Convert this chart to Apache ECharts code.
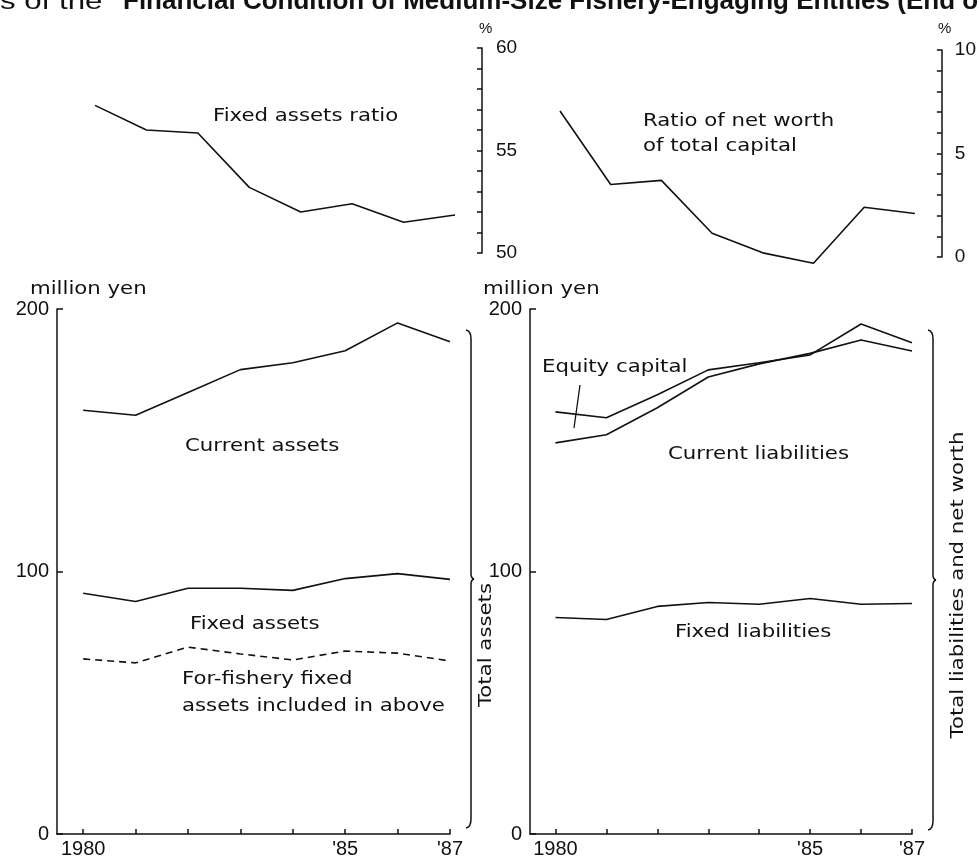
<!DOCTYPE html>
<html>
<head>
<meta charset="utf-8">
<script src="https://cdn.jsdelivr.net/npm/echarts@6/dist/echarts.min.js"></script>
<style>
  html, body { margin: 0; padding: 0; background: #fff; }
  #chart { width: 979px; height: 862px; }
</style>
</head>
<body>
<div id="chart"></div>
<script>
// Years on the horizontal axes
const years = [1980, 1981, 1982, 1983, 1984, 1985, 1986, 1987];
const labeledYears = [1980, 1985, 1987];
const yearText = { 1980: '1980', 1985: "'85", 1987: "'87" };

// Ratios (%)
const fixedAssetsRatio = [57.2, 56.0, 55.85, 53.2, 52.0, 52.4, 51.5, 51.85];
const netWorthRatio = [7.05, 3.5, 3.7, 1.15, 0.2, -0.3, 2.4, 2.1];

// Assets side (million yen, cumulative levels)
const totalAssets = [161.4, 159.5, 168.2, 176.9, 179.5, 184.1, 194.7, 187.5];
const fixedAssets = [91.7, 88.6, 93.6, 93.6, 92.8, 97.3, 99.2, 97.0];
const fisheryFixedAssets = [66.7, 65.2, 71.2, 68.6, 66.3, 69.7, 68.9, 65.9];

// Liabilities and net worth side (million yen, cumulative levels)
const totalLiabNetWorth = [160.8, 158.6, 167.3, 176.8, 179.5, 182.5, 194.3, 187.1];
const totalLiabilities = [149.0, 152.1, 162.4, 174.1, 179.1, 183.1, 188.2, 184.0];
const fixedLiabilities = [82.5, 81.7, 86.7, 88.2, 87.5, 89.7, 87.5, 87.8];

// Tick labels
const fixedRatioTicks = [50, 55, 60];
const netWorthTicks = [0, 5, 10];
const yenTicks = [0, 100, 200];

const INK = '#111';
const TXT = 'DejaVu Sans, sans-serif';
const NUM = 'Liberation Sans, Arial, sans-serif';

const pairs = arr => years.map((y, i) => [y, arr[i]]);

function lineSeries(name, data, xi, dashed) {
  return {
    name, type: 'line', xAxisIndex: xi, yAxisIndex: xi,
    data: pairs(data), symbol: 'none', clip: false, silent: true,
    lineStyle: { color: INK, width: 1.6, type: dashed ? [7, 5] : 'solid' }
  };
}

function hiddenX(gi) {
  return { type: 'value', gridIndex: gi, min: 1980, max: 1987, show: false };
}
function yearAxis(gi) {
  return {
    type: 'value', gridIndex: gi, min: 1979.5, max: 1987,
    axisLine: { show: true, lineStyle: { color: INK, width: 1.5 } },
    axisTick: { show: true, inside: true, length: 5, customValues: years,
                lineStyle: { color: INK, width: 1.5 } },
    axisLabel: { customValues: labeledYears, formatter: v => yearText[v] || '',
                 fontSize: 20, fontFamily: NUM, color: INK, margin: 5 },
    splitLine: { show: false }
  };
}
function ratioAxis(gi, min, max, ticks, margin) {
  return {
    type: 'value', gridIndex: gi, position: 'right', offset: 27,
    min, max, interval: 1,
    axisLine: { show: true, lineStyle: { color: INK, width: 1.5 } },
    axisTick: { show: true, inside: true, length: 5, lineStyle: { color: INK, width: 1.5 } },
    axisLabel: { customValues: ticks, fontSize: 19, fontFamily: NUM, color: INK, margin },
    splitLine: { show: false }
  };
}
function yenAxis(gi) {
  return {
    type: 'value', gridIndex: gi, position: 'left', min: 0, max: 200, interval: 100,
    axisLine: { show: true, lineStyle: { color: INK, width: 1.5 } },
    axisTick: { show: true, inside: true, length: 6, lineStyle: { color: INK, width: 1.5 } },
    axisLabel: { customValues: yenTicks, fontSize: 20, fontFamily: NUM, color: INK, margin: 8 },
    splitLine: { show: false }
  };
}

// Annotation text in a wide, evenly spaced sans face
function label(text, x, y, opts) {
  opts = opts || {};
  return {
    type: 'text', x, y, silent: true,
    rotation: opts.rotation || 0,
    scaleX: opts.scaleX || 1.25,
    style: Object.assign({
      text, fill: INK, font: '17px ' + TXT,
      align: 'left', verticalAlign: 'middle'
    }, opts.style || {})
  };
}

// Curly bracket grouping the stacked parts of a panel
function brace(x, top, bottom) {
  const mid = (top + bottom) / 2;
  const seg = (a, b, c) => ({
    type: 'bezierCurve', silent: true,
    shape: { x1: a[0], y1: a[1], cpx1: b[0], cpy1: b[1], x2: c[0], y2: c[1] },
    style: { fill: null, stroke: INK, lineWidth: 1.5 }
  });
  const ln = (a, b) => ({
    type: 'line', silent: true,
    shape: { x1: a[0], y1: a[1], x2: b[0], y2: b[1] },
    style: { stroke: INK, lineWidth: 1.5 }
  });
  return [
    seg([x - 5, top], [x, top + 1], [x, top + 9]),
    ln([x, top + 9], [x, mid - 5]),
    seg([x, mid - 5], [x, mid - 1], [x + 3, mid]),
    seg([x + 3, mid], [x, mid + 1], [x, mid + 5]),
    ln([x, mid + 5], [x, bottom - 9]),
    seg([x, bottom - 9], [x, bottom - 1], [x - 5, bottom])
  ];
}

const chart = echarts.init(document.getElementById('chart'), null, { renderer: 'canvas' });

chart.setOption({
  backgroundColor: '#fff',
  animation: false,
  grid: [
    { left: 95, top: 48, width: 360, height: 205 },
    { left: 560, top: 50, width: 355, height: 207 },
    { left: 57, top: 309, width: 393, height: 525 },
    { left: 530, top: 309, width: 382, height: 525 }
  ],
  xAxis: [hiddenX(0), hiddenX(1), yearAxis(2), yearAxis(3)],
  yAxis: [
    ratioAxis(0, 50, 60, fixedRatioTicks, 14),
    ratioAxis(1, 0, 10, netWorthTicks, 13),
    yenAxis(2),
    yenAxis(3)
  ],
  series: [
    lineSeries('Fixed assets ratio', fixedAssetsRatio, 0),
    lineSeries('Ratio of net worth of total capital', netWorthRatio, 1),
    lineSeries('Total assets', totalAssets, 2),
    lineSeries('Fixed assets', fixedAssets, 2),
    lineSeries('For-fishery fixed assets', fisheryFixedAssets, 2, true),
    lineSeries('Total liabilities and net worth', totalLiabNetWorth, 3),
    lineSeries('Total liabilities', totalLiabilities, 3),
    lineSeries('Fixed liabilities', fixedLiabilities, 3)
  ],
  graphic: [
    {
      type: 'text', x: 0, y: 2, silent: true, scaleX: 1.3,
      style: { text: 's of the', font: '24px ' + NUM, fill: INK,
               align: 'left', verticalAlign: 'middle' }
    },
    {
      type: 'text', x: 123, y: 2, silent: true, scaleX: 1.04,
      style: { text: 'Financial Condition of Medium-Size Fishery-Engaging Entities (End o',
               font: 'bold 25px ' + NUM, fill: INK, align: 'left', verticalAlign: 'middle' }
    },
    label('%', 479, 29, { scaleX: 1, style: { font: '15px ' + NUM } }),
    label('%', 938, 29, { scaleX: 1, style: { font: '15px ' + NUM } }),
    label('million yen', 30, 290),
    label('million yen', 483, 290),
    label('Fixed assets ratio', 213, 117),
    label('Ratio of net worth', 643, 122),
    label('of total capital', 643, 147),
    label('Current assets', 185, 447),
    label('Fixed assets', 190, 625),
    label('For-fishery fixed', 182, 680),
    label('assets included in above', 182, 707),
    label('Equity capital', 542, 368),
    label('Current liabilities', 668, 455),
    label('Fixed liabilities', 675, 633),
    {
      type: 'line', silent: true,
      shape: { x1: 580, y1: 385, x2: 574, y2: 428 },
      style: { stroke: INK, lineWidth: 1.3 }
    },
    ...brace(471, 330, 828),
    ...brace(933, 330, 830),
    label('Total assets', 487, 645, { rotation: Math.PI / 2, style: { align: 'center' } }),
    label('Total liabilities and net worth', 959, 585, { rotation: Math.PI / 2, style: { align: 'center' } })
  ]
});
</script>
</body>
</html>
